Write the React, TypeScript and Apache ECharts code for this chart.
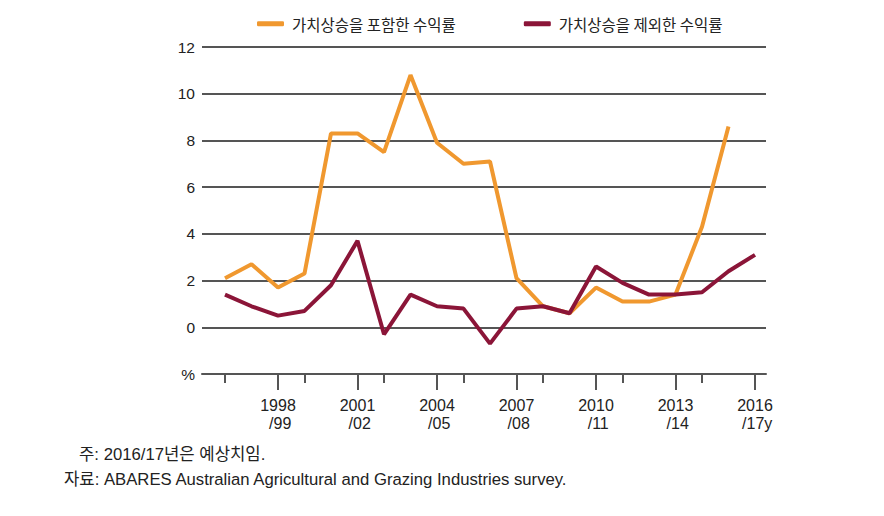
import React, { useEffect, useRef } from "react";
import * as echarts from "echarts";

const categories = [
  "1996/97", "1997/98", "1998/99", "1999/00", "2000/01", "2001/02", "2002/03",
  "2003/04", "2004/05", "2005/06", "2006/07", "2007/08", "2008/09", "2009/10",
  "2010/11", "2011/12", "2012/13", "2013/14", "2014/15", "2015/16", "2016/17y",
];
const withCapitalGains = [
  2.1, 2.7, 1.7, 2.3, 8.3, 8.3, 7.5, 10.8, 7.9, 7.0, 7.1, 2.1, 0.9, 0.6, 1.7,
  1.1, 1.1, 1.4, 4.3, 8.6, null,
];
const withoutCapitalGains = [
  1.4, 0.9, 0.5, 0.7, 1.8, 3.7, -0.3, 1.4, 0.9, 0.8, -0.7, 0.8, 0.9, 0.6, 2.6,
  1.9, 1.4, 1.4, 1.5, 2.4, 3.1,
];
const seriesNames = ["가치상승을 포함한 수익률", "가치상승을 제외한 수익률"];
const yMin = -2;
const yMax = 12;
const yStep = 2;
const noteText = "주: 2016/17년은 예상치임.";
const sourceText = "자료: ABARES Australian Agricultural and Grazing Industries survey.";

const labelFor = (c: string) => {
  const [a, b] = c.split("/");
  return a + "\n /" + b;
};

export default function App() {
  const ref = useRef<HTMLDivElement>(null);
  useEffect(() => {
    if (!ref.current) return;
    const chart = echarts.init(ref.current, null, { renderer: "svg" });
    const font = "'Liberation Sans', 'Noto Sans CJK KR', sans-serif";
    const gridTop = 47;
    const gridBottom = 516 - 374;
    const gray = "#555";
    const labelEvery = (i: number) => i % 3 === 2;
    chart.setOption({
      animation: false,
      backgroundColor: "#fff",
      textStyle: { fontFamily: font },
      legend: {
        left: 252,
        top: 11,
        icon: "roundRect",
        itemWidth: 27,
        itemHeight: 5,
        itemGap: 68,
        textStyle: {
          fontSize: 15.5,
          color: "#222",
          fontFamily: "'Noto Sans CJK KR', sans-serif",
          padding: [0, 0, 0, 3],
        },
        data: seriesNames,
      },
      grid: [
        { left: 202, right: 884 - 766, top: gridTop, bottom: gridBottom },
        { left: 225, right: 884 - 755, top: gridTop, bottom: gridBottom },
        { left: 225, right: 884 - 755, top: gridTop, bottom: gridBottom },
      ],
      xAxis: [
        {
          gridIndex: 0,
          type: "value",
          min: 0,
          max: 1,
          axisLine: { show: true, onZero: false, lineStyle: { color: gray, width: 2 } },
          axisTick: { show: false },
          axisLabel: { show: false },
          splitLine: { show: false },
        },
        {
          gridIndex: 1,
          type: "category",
          data: categories,
          boundaryGap: false,
          axisLine: { show: false, onZero: false },
          axisTick: { show: true, length: 9, lineStyle: { color: gray, width: 2 } },
          axisLabel: { show: false },
          splitLine: { show: false },
        },
        {
          gridIndex: 2,
          type: "category",
          data: categories,
          boundaryGap: false,
          axisLine: { show: false, onZero: false },
          axisTick: {
            show: true,
            length: 16,
            interval: labelEvery,
            lineStyle: { color: gray, width: 2 },
          },
          axisLabel: {
            show: true,
            interval: labelEvery,
            formatter: (v: string) => labelFor(v),
            fontSize: 16,
            lineHeight: 18,
            color: "#222",
            margin: 22,
            fontFamily: font,
          },
          splitLine: { show: false },
        },
      ],
      yAxis: [
        {
          gridIndex: 0,
          type: "value",
          min: yMin,
          max: yMax,
          interval: yStep,
          axisLine: { show: false },
          axisTick: { show: false },
          axisLabel: {
            fontSize: 15.5,
            color: "#222",
            margin: 7,
            fontFamily: font,
            formatter: (v: number) => (v === yMin ? "%" : String(v)),
          },
          splitLine: {
            show: true,
            lineStyle: { color: gray, width: 2 },
            showMinLine: false,
          },
        },
        { gridIndex: 1, type: "value", min: yMin, max: yMax, interval: yStep, show: false },
        { gridIndex: 2, type: "value", min: yMin, max: yMax, interval: yStep, show: false },
      ],
      series: [
        {
          name: seriesNames[0],
          type: "line",
          xAxisIndex: 1,
          yAxisIndex: 1,
          data: withCapitalGains,
          symbol: "none",
          lineStyle: { color: "#F0982F", width: 4 },
          itemStyle: { color: "#F0982F" },
          z: 3,
        },
        {
          name: seriesNames[1],
          type: "line",
          xAxisIndex: 1,
          yAxisIndex: 1,
          data: withoutCapitalGains,
          symbol: "none",
          lineStyle: { color: "#8B1538", width: 4 },
          itemStyle: { color: "#8B1538" },
          z: 4,
        },
      ],
      graphic: [
        {
          type: "text",
          left: 79,
          top: 446,
          style: { text: noteText, fontSize: 16.7, fill: "#222", fontFamily: font },
        },
        {
          type: "text",
          left: 64,
          top: 471,
          style: { text: sourceText, fontSize: 16.7, fill: "#222", fontFamily: font },
        },
      ],
    });
    return () => chart.dispose();
  }, []);
  return <div ref={ref} style={{ width: 884, height: 516, margin: -8 }} />;
}
